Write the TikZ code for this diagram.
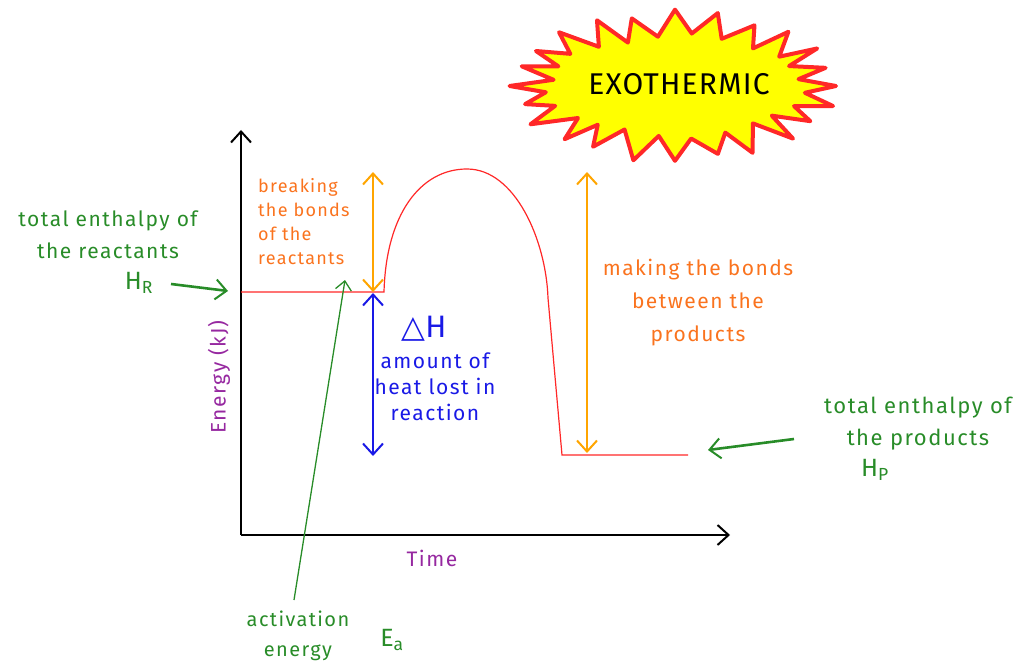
\documentclass[tikz,border=0pt]{standalone}
\usepackage{fontspec}
\setmainfont[LetterSpace=7]{Fira Sans}
\newfontfamily\exofont{Fira Sans}
\newfontfamily\symfont{DejaVu Sans}
\usetikzlibrary{arrows.meta}
\definecolor{grn}{RGB}{40,140,40}
\definecolor{otxt}{RGB}{250,115,30}
\definecolor{oarr}{RGB}{255,165,0}
\definecolor{blu}{RGB}{25,25,230}
\definecolor{pur}{RGB}{150,40,160}
\definecolor{rd}{RGB}{255,40,40}
\definecolor{yel}{RGB}{255,255,0}
\begin{document}
\begin{tikzpicture}[x=1pt,y=-1pt,
  every node/.style={inner sep=0pt},
  lbl/.style={font=\fontsize{20}{29}\selectfont, align=center},
  barb/.style={-{Straight Barb[length=11pt,width=20pt,line width=2pt]}},
  dbarb/.style={{Straight Barb[length=11pt,width=20pt,line width=2pt]}-{Straight Barb[length=11pt,width=20pt,line width=2pt]}},
  axis/.style={line width=2.4pt, black, barb},
  oarrow/.style={line width=2pt, oarr, dbarb},
  barrow/.style={line width=2.4pt, blu, dbarb},
  garrow/.style={line width=2.6pt, grn, barb},
  curve/.style={line width=1.2pt, rd}]
\useasboundingbox (0,0) rectangle (1031,666);

% starburst
\fill[yel, draw=rd, line width=4pt, line join=round]
  plot[samples at={0,1,...,47}, variable=\k]
  ({675 + (mod(\k,2)==0 ? 161+6*sin(\k*77) : 127+5*sin(\k*53))*cos(\k*7.5)},
   {86 + (mod(\k,2)==0 ? 74+4*sin(\k*61) : 50+3*sin(\k*41))*sin(\k*7.5)}) -- cycle;
\node[font=\exofont\fontsize{30}{32}\selectfont\addfontfeatures{LetterSpace=4}] (exo) at (679,84) {EXOTHERMIC};

% axes
\coordinate (O) at (241,535);
\coordinate (ytop) at (241,130);
\coordinate (xend) at (730,535);
\draw[axis] (O) -- (ytop);
\draw[axis] (O) -- (xend);

% reaction curve
\coordinate (r0) at (241,292);
\coordinate (r1) at (384,292);
\coordinate (peak) at (467,169);
\coordinate (r2) at (548,298);
\coordinate (r3) at (562,455);
\coordinate (r4) at (688,455);
\draw[curve] (r0) -- (r1) .. controls (386,215) and (420,169) .. (peak)
  .. controls (515,169) and (546,240) .. (r2) -- (r3) -- (r4);

% arrows
\coordinate (ob) at (373,292);
\coordinate (ot) at (373,172);
\draw[oarrow] (ob) -- (ot);
\coordinate (bt) at (373,293);
\coordinate (bb) at (373,456);
\draw[barrow] (bt) -- (bb);
\coordinate (mt) at (587,172);
\coordinate (mb) at (587,453);
\draw[oarrow] (mt) -- (mb);

% left labels
\node[lbl, grn, font=\fontsize{21}{32}\selectfont] (hrtext) at (108,235) {total enthalpy of\\the reactants};
\node[grn, font=\fontsize{25}{26}\selectfont] (hr) at (139,283) {H\textsubscript{R}};
\coordinate (hra) at (171,284);
\coordinate (hrb) at (228,291);
\draw[garrow] (hra) -- (hrb);

\node[lbl, otxt, align=left, anchor=north west, font=\fontsize{18}{24}\selectfont] (brk) at (258,178) {breaking\\the bonds\\of the\\reactants};

% delta H
\node[blu, font=\fontsize{31}{36}\selectfont] (dh) at (424,329) {{\symfont △}H};
\node[lbl, blu, font=\fontsize{21}{26}\selectfont] (amt) at (435,387) {amount of\\heat lost in\\reaction};

% making bonds
\node[lbl, otxt, font=\fontsize{21}{33}\selectfont] (mk) at (698,303) {making the bonds\\between the\\products};

% right labels
\node[lbl, grn, font=\fontsize{22}{32}\selectfont] (hptext) at (918,424) {total enthalpy of\\the products};
\node[grn, font=\fontsize{25}{26}\selectfont] (hp) at (875,470) {H\textsubscript{P}};
\coordinate (hpa) at (794,439);
\coordinate (hpb) at (708,450);
\draw[garrow] (hpa) -- (hpb);

% axis labels
\node[pur, rotate=90, font=\fontsize{21}{24}\selectfont] (en) at (219,377) {Energy (kJ)};
\node[pur, font=\fontsize{21}{24}\selectfont] (tm) at (432,558) {Time};

% activation energy
\node[lbl, grn, font=\fontsize{20}{30}\selectfont] (act) at (298,636) {activation\\energy};
\node[grn, font=\fontsize{25}{26}\selectfont] (ea) at (392,640) {E\textsubscript{a}};
\coordinate (aa) at (294,600);
\coordinate (ab) at (345,280);
\draw[line width=1.3pt, grn, -{Straight Barb[length=9pt,width=16pt,line width=1.3pt]}] (aa) -- (ab);
\end{tikzpicture}
\end{document}
